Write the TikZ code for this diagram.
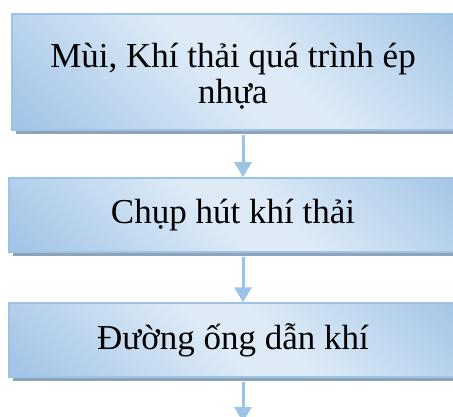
\documentclass[tikz,border=0pt]{standalone}
\usepackage{fontspec}
\setmainfont{Liberation Serif}
\usetikzlibrary{arrows.meta,shadows}
\definecolor{boxline}{HTML}{9DC3E6}
\definecolor{boxdark}{HTML}{A2C4E6}
\definecolor{boxlight}{HTML}{DEEBF7}
\definecolor{shadowc}{HTML}{8EA3B8}
\definecolor{flowc}{HTML}{9DC3E6}
\pgfdeclarehorizontalshading{stepshade}{100bp}{%
  color(0bp)=(boxdark); color(16bp)=(boxdark); color(48bp)=(boxlight);
  color(56bp)=(boxlight); color(86bp)=(boxdark); color(100bp)=(boxdark)}
\tikzset{
  stepbox/.style={draw=boxline, line width=1.5pt, shading=stepshade, shading angle=45,
    drop shadow={shadow xshift=4pt, shadow yshift=-4pt, fill=shadowc, opacity=1},
    inner sep=0pt, align=center, font=\fontsize{35}{35}\selectfont},
  steptext/.style={inner sep=0pt, align=center, font=\fontsize{35}{35.5}\selectfont},
  flow/.style={draw=flowc, line width=3pt,
    -{Triangle[width=17pt,length=15pt]}},
}
\begin{document}
\begin{tikzpicture}[x=1pt,y=1pt]
\useasboundingbox (0,0) rectangle (453,-417);
\clip (0,0) rectangle (453,-417);
% process steps
\node[stepbox, minimum width=442pt, minimum height=116pt] (b1) at (233,-72) {};
\node[steptext] (t1) at (233,-76) {Mùi, Khí thải quá trình ép\\nhựa};
\node[stepbox, minimum width=448pt, minimum height=74pt] (b2) at (233,-215)
  {Chụp hút khí thải};
\node[stepbox, minimum width=448pt, minimum height=74pt] (b3) at (233,-340)
  {Đường ống dẫn khí};
% flow arrows, leaving below each shadow
\coordinate (out) at (243,-422);
\draw[flow] ([xshift=10pt,yshift=-4pt]b1.south) -- ([xshift=10pt]b2.north);
\draw[flow] ([xshift=10pt,yshift=-4pt]b2.south) -- ([xshift=10pt]b3.north);
\draw[flow] ([xshift=10pt,yshift=-4pt]b3.south) -- (out);
\end{tikzpicture}
\end{document}
